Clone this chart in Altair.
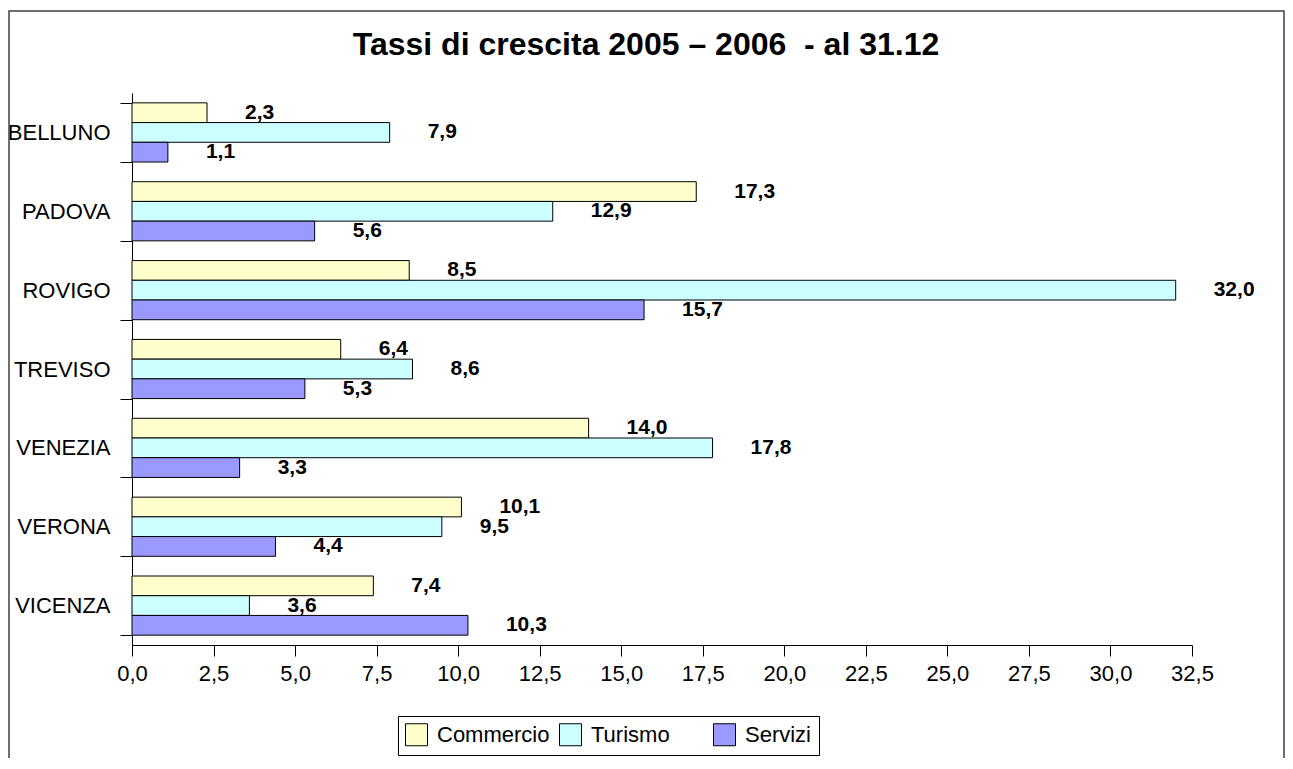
import altair as alt
import pandas as pd

provinces = ["BELLUNO", "PADOVA", "ROVIGO", "TREVISO", "VENEZIA", "VERONA", "VICENZA"]
series = ["Commercio", "Turismo", "Servizi"]
commercio = [2.3, 17.3, 8.5, 6.4, 14.0, 10.1, 7.4]
turismo = [7.9, 12.9, 32.0, 8.6, 17.8, 9.5, 3.6]
servizi = [1.1, 5.6, 15.7, 5.3, 3.3, 4.4, 10.3]
colors = ["#FFFFCC", "#CCFFFF", "#9999FF"]
x_ticks = [0.0, 2.5, 5.0, 7.5, 10.0, 12.5, 15.0, 17.5, 20.0, 22.5, 25.0, 27.5, 30.0, 32.5]
title_text = "Tassi di crescita 2005 – 2006  - al 31.12"

rows = []
for s, vals in zip(series, [commercio, turismo, servizi]):
    for p, v in zip(provinces, vals):
        rows.append({"provincia": p, "serie": s, "valore": v})
df = pd.DataFrame(rows)

FONT = "Liberation Sans"

y_enc = alt.Y(
    "provincia:N",
    sort=provinces,
    scale=alt.Scale(paddingInner=0.25, paddingOuter=0.125),
    axis=alt.Axis(
        title=None, tickBand="extent", labelFontSize=22, labelFont=FONT,
        labelPadding=10, tickSize=12, domainColor="black", tickColor="black",
        labelColor="black",
    ),
)
yoff_enc = alt.YOffset("serie:N", sort=series, scale=alt.Scale(paddingInner=0, paddingOuter=0))
x_enc = alt.X(
    "valore:Q",
    scale=alt.Scale(domain=[0, 32.5], nice=False, zero=True),
    axis=alt.Axis(
        title=None, values=x_ticks, grid=False,
        labelExpr="replace(format(datum.value, '.1f'), '.', ',')",
        tickSize=11, labelFontSize=22, labelFont=FONT, labelPadding=7,
        domainColor="black", tickColor="black", labelColor="black",
        labelFlush=False, labelOverlap=False,
    ),
)

bars = alt.Chart(df).mark_bar(stroke="black", strokeWidth=1).encode(
    y=y_enc,
    yOffset=yoff_enc,
    x=x_enc,
    color=alt.Color(
        "serie:N",
        sort=series,
        scale=alt.Scale(domain=series, range=colors),
        legend=alt.Legend(
            title=None, orient="none", legendX=266, legendY=623,
            direction="horizontal", columns=3, gridAlign="all",
            symbolType="square", symbolSize=484, symbolStrokeColor="black",
            symbolStrokeWidth=1, symbolOpacity=1,
            labelFontSize=22, labelFont=FONT, labelColor="black", labelOffset=9,
            columnPadding=7, padding=7, strokeColor="black", fillColor="white",
        ),
    ),
)

labels = alt.Chart(df).transform_calculate(
    lab="replace(format(datum.valore, '.1f'), '.', ',')"
).mark_text(
    align="left", baseline="middle", dx=38, fontSize=21, fontWeight="bold",
    font=FONT, color="black",
).encode(y=y_enc, yOffset=yoff_enc, x=x_enc, text="lab:N")

one = pd.DataFrame({"t": [title_text.replace("  ", " \u00a0")]})

border = alt.Chart(one).mark_rect(
    fillOpacity=0, stroke="#404040", strokeWidth=1.5
).encode(
    x=alt.value(-123), x2=alt.value(1152), y=alt.value(-82), y2=alt.value(900)
)

title = alt.Chart(one).mark_text(
    align="center", baseline="alphabetic", fontSize=32, fontWeight="bold",
    font=FONT, color="black",
).encode(x=alt.value(514), y=alt.value(-38), text="t:N")

chart = alt.layer(border, title, bars, labels).properties(
    width=1060,
    height=552,
    autosize=alt.AutoSizeParams(type="none"),
    padding={"left": 124, "top": 85, "right": 93, "bottom": 113},
).configure_view(strokeWidth=0)

chart.save("out.html", embed_options={"renderer": "svg", "actions": False})
